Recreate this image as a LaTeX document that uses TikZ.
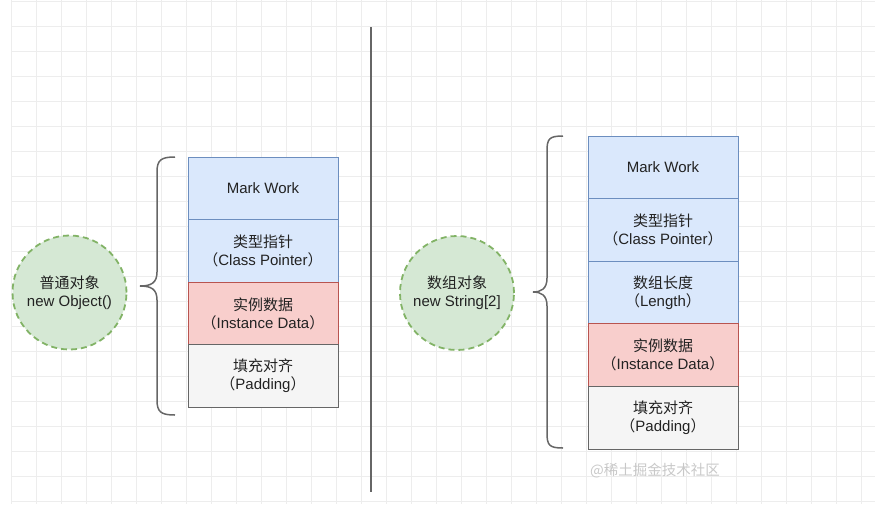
\documentclass[tikz,border=0pt]{standalone}
\usepackage{fontspec}
\setmainfont{Liberation Sans}
\newfontfamily\cjk{Noto Sans CJK SC}
\usepackage{tikz}
\usetikzlibrary{positioning}
\definecolor{ink}{HTML}{222222}
\definecolor{bluefill}{HTML}{DAE8FC}
\definecolor{blueline}{HTML}{6C8EBF}
\definecolor{redfill}{HTML}{F8CECC}
\definecolor{redline}{HTML}{B85450}
\definecolor{grayfill}{HTML}{F5F5F5}
\definecolor{grayline}{HTML}{666666}
\definecolor{greenfill}{HTML}{D5E8D4}
\definecolor{greenline}{HTML}{82B366}
\definecolor{gridgray}{HTML}{EDEDED}
\definecolor{mark}{HTML}{C8C8C8}
\tikzset{
  fieldbox/.style={minimum width=150pt,minimum height=62.6pt,inner sep=0pt,
    outer sep=0pt,line width=1pt,align=center,text=ink,
    font=\fontsize{15}{18}\selectfont},
  headfld/.style={fieldbox,fill=bluefill,draw=blueline},
  datafld/.style={fieldbox,fill=redfill,draw=redline},
  padfld/.style={fieldbox,fill=grayfill,draw=grayline},
  objcircle/.style={circle,minimum size=114pt,inner sep=0pt,fill=greenfill,
    draw=greenline,line width=1.8pt,dash pattern=on 6pt off 4pt,
    align=center,text=ink,font=\fontsize{15}{18}\selectfont},
  curly/.style={draw=grayline,line width=1.5pt},
  gridline/.style={draw=gridgray,line width=0.8pt}
}
\begin{document}
\begin{tikzpicture}[x=1pt,y=-1pt]
\useasboundingbox (0,0) rectangle (875,504);
% background grid
\foreach \gx in {11,36,...,861} \draw[gridline] (\gx,0)--(\gx,504);
\foreach \gy in {1,26,...,501} \draw[gridline] (11,\gy)--(875,\gy);

% divider
\draw[grayline,line width=2pt] (371,27)--(371,492);

% plain object
\node[objcircle] (objL) at (69.5,292.5) {{\cjk 普通对象}\\new Object()};
\node[headfld,anchor=north] (markL) at (263,157) {Mark Work};
\node[headfld,below=0pt of markL] (klassL)
  {{\cjk 类型指针}\\{\cjk （}Class Pointer{\cjk ）}};
\node[datafld,below=0pt of klassL] (dataL)
  {{\cjk 实例数据}\\{\cjk （}Instance Data{\cjk ）}};
\node[padfld,below=0pt of dataL] (padL)
  {{\cjk 填充对齐}\\{\cjk （}Padding{\cjk ）}};
\draw[curly] (175,157) .. controls (161,157) and (157,160) .. (157,172)
  -- (157,272) .. controls (157,283) and (151,286) .. (140,286)
  .. controls (151,286) and (157,289) .. (157,300)
  -- (157,400) .. controls (157,412) and (161,415) .. (175,415);

% array object
\node[objcircle] (objR) at (457,293) {{\cjk 数组对象}\\new String[2]};
\node[headfld,anchor=north] (markR) at (663,136) {Mark Work};
\node[headfld,below=0pt of markR] (klassR)
  {{\cjk 类型指针}\\{\cjk （}Class Pointer{\cjk ）}};
\node[headfld,below=0pt of klassR] (lenR)
  {{\cjk 数组长度}\\{\cjk （}Length{\cjk ）}};
\node[datafld,below=0pt of lenR] (dataR)
  {{\cjk 实例数据}\\{\cjk （}Instance Data{\cjk ）}};
\node[padfld,below=0pt of dataR] (padR)
  {{\cjk 填充对齐}\\{\cjk （}Padding{\cjk ）}};
\draw[curly] (563,136) .. controls (549,136) and (547,139) .. (547,151)
  -- (547,278) .. controls (547,289) and (541,292) .. (533,292)
  .. controls (541,292) and (547,295) .. (547,306)
  -- (547,433) .. controls (547,445) and (549,448) .. (563,448);

% watermark
\node[text=mark,font=\cjk\fontsize{14.5}{16}\selectfont] (wm) at (655,471)
  {@稀土掘金技术社区};
\end{tikzpicture}
\end{document}
